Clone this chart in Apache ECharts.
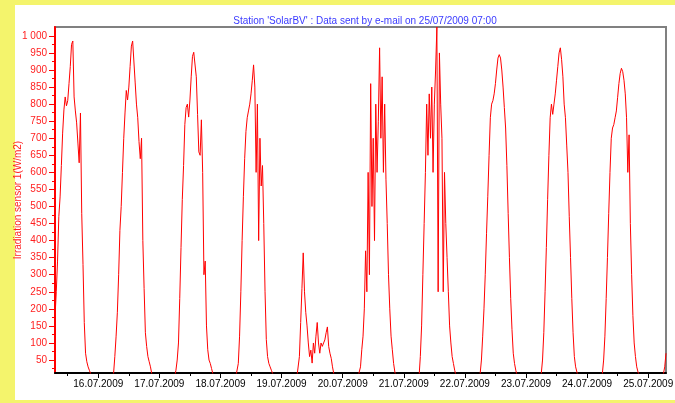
<!DOCTYPE html>
<html>
<head>
<meta charset="utf-8">
<script src="https://cdn.jsdelivr.net/npm/echarts@6/dist/echarts.min.js"></script>
<style>
html,body{margin:0;padding:0;background:#f4f46c;overflow:hidden;}
#wrap{position:relative;width:675px;height:403px;overflow:hidden;}
#panel{position:absolute;left:15px;top:5px;width:700px;height:395px;background:#ffffff;}
#chart{position:absolute;left:0;top:0;width:675px;height:403px;}
</style>
</head>
<body>
<div id="wrap"><div id="panel"></div><div id="chart"></div></div>
<script>
// Tick labels
const dateLabels = ['16.07.2009','17.07.2009','18.07.2009','19.07.2009','20.07.2009','21.07.2009','22.07.2009','23.07.2009','24.07.2009','25.07.2009'];
const yTicks = [50,100,150,200,250,300,350,400,450,500,550,600,650,700,750,800,850,900,950,1000];

// Irradiation readings (W/m2), one array per day, 30-minute steps from the start hour of that day
const dayStartHour = [7,5,5,5,5,5,5,5,5,5,5];
const day15 = [176,250,340,470,528,620,715,783,821,795,810,860,910,975,985,821,780,745,686,628,774,480,330,160,70,45,30,20,10,0];
const day16 = [0,0,10,60,120,190,300,430,500,600,700,774,840,812,850,910,970,985,990,862,800,760,690,640,700,400,260,130,90,60,45,30,10,0];
const day17 = [0,0,0,20,50,100,230,380,520,620,740,790,800,762,812,880,940,952,950,880,770,660,650,754,600,300,340,150,80,50,40,25,10,0];
const day18 = [0,0,0,0,40,120,250,400,530,640,720,760,780,800,830,870,915,850,600,800,400,700,560,620,450,250,110,60,40,30,20,10,0,0];
const day19 = [0,0,0,0,60,160,260,364,250,190,150,100,60,79,41,100,70,120,160,100,70,100,90,100,109,130,147,90,70,55,30,10,0,0];
const day20 = [0,0,0,0,30,80,120,200,370,250,600,300,860,500,700,400,800,600,750,965,700,880,600,800,580,450,300,200,120,80,40,15,0,0];
const day21 = [0,0,0,60,150,300,450,600,800,650,830,700,850,600,800,900,1026,250,950,800,700,250,600,450,350,250,150,100,60,40,20,5,0,0];
const day22 = [0,0,10,50,120,200,300,420,530,650,760,800,810,830,860,900,935,945,935,900,850,790,730,620,480,350,230,140,70,40,20,5,0,0];
const day23 = [0,0,10,50,130,250,380,520,650,760,800,770,800,830,870,910,950,965,930,880,800,760,680,600,470,350,230,130,60,30,15,0,0,0];
const day24 = [0,0,10,50,120,230,350,480,600,700,730,740,760,780,820,860,890,905,895,870,830,760,600,710,450,300,180,100,60,30,15,5,0,0];
const day25 = [0,0,10,30,70];
const days = [day15,day16,day17,day18,day19,day20,day21,day22,day23,day24,day25];

// x values: hours since 15.07.2009 00:00
const data = [];
days.forEach((arr, d) => {
  arr.forEach((v, i) => {
    data.push([d * 24 + dayStartHour[d] + i * 0.5, v]);
  });
});

const chart = echarts.init(document.getElementById('chart'), null, {renderer: 'canvas'});
const majorX = dateLabels.map((_, i) => (i + 1) * 24);
const minorX = dateLabels.map((_, i) => i * 24 + 12).concat([252]).filter(v => v > 7 && v < 247);
const minorY = yTicks.map(v => v - 25).filter(v => v > 12);

chart.setOption({
  animation: false,
  backgroundColor: 'transparent',
  title: {
    text: "Station 'SolarBV' : Data sent by e-mail on 25/07/2009 07:00",
    left: 360,
    top: 11,
    textAlign: 'center',
    textStyle: {color: '#3a3aff', fontSize: 10, fontWeight: 'normal', fontFamily: 'Liberation Sans, Arial, sans-serif'}
  },
  grid: {left: 55, right: 9, top: 27, bottom: 30, show: true, borderColor: '#808080', borderWidth: 2, backgroundColor: 'transparent', outerBoundsMode: 'none', containLabel: false},
  xAxis: [{
    type: 'value', min: 7, max: 247,
    splitLine: {show: false},
    axisLine: {show: true, lineStyle: {color: '#000000', width: 2}},
    axisTick: {show: true, customValues: majorX, length: 5, lineStyle: {color: '#000000', width: 1}},
    axisLabel: {
      customValues: majorX,
      formatter: v => dateLabels[Math.round(v / 24) - 1] || '',
      color: '#000000', fontSize: 10, margin: 6, fontFamily: 'Liberation Sans, Arial, sans-serif'
    }
  }, {
    type: 'value', min: 7, max: 247, position: 'bottom',
    splitLine: {show: false},
    axisLine: {show: false},
    axisTick: {show: true, customValues: minorX, length: 3, lineStyle: {color: '#000000', width: 1}},
    axisLabel: {show: false}
  }],
  yAxis: [{
    type: 'value', min: 12, max: 1026,
    name: 'Irradiation sensor 1(W/m2)',
    nameLocation: 'middle', nameGap: 32, nameRotate: 90, nameMoveOverlap: false,
    nameTextStyle: {color: '#ff2020', fontSize: 10, fontFamily: 'Liberation Sans, Arial, sans-serif'},
    splitLine: {show: false},
    axisLine: {show: true, lineStyle: {color: '#ff0000', width: 2}},
    axisTick: {show: true, customValues: yTicks, length: 6, lineStyle: {color: '#ff0000', width: 1}},
    axisLabel: {
      customValues: yTicks,
      formatter: v => v >= 1000 ? '1 000' : String(v),
      color: '#ff2020', fontSize: 10, margin: 8, fontFamily: 'Liberation Sans, Arial, sans-serif'
    }
  }, {
    type: 'value', min: 12, max: 1026, position: 'left',
    splitLine: {show: false},
    axisLine: {show: false},
    axisTick: {show: true, customValues: minorY, length: 3, lineStyle: {color: '#ff0000', width: 1}},
    axisLabel: {show: false}
  }],
  series: [{
    type: 'line',
    data: data,
    showSymbol: false,
    symbol: 'none',
    lineStyle: {color: '#ff0000', width: 1},
    itemStyle: {color: '#ff0000'},
    clip: true,
    z: 3
  }]
});
</script>
</body>
</html>
